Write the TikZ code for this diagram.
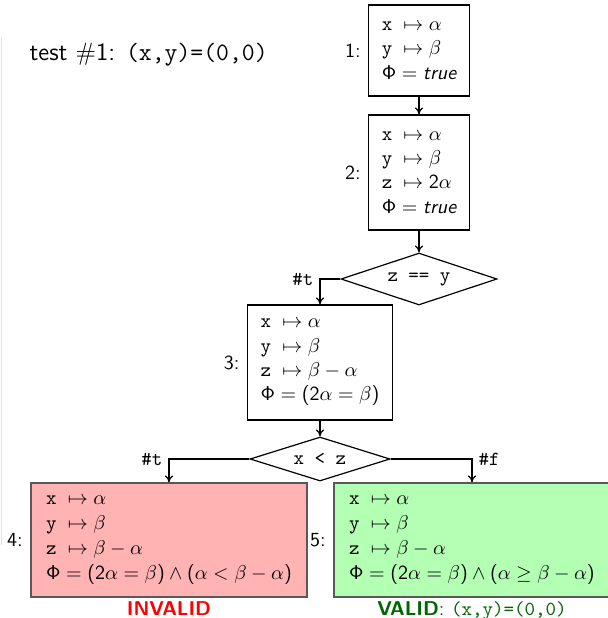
\documentclass[tikz,border=0pt]{standalone}
\usepackage{amsmath}
\usetikzlibrary{shapes.geometric,arrows.meta}
\DeclareSymbolFont{operators}{OT1}{cmss}{m}{n}
\definecolor{invred}{RGB}{255,0,0}
\definecolor{validgreen}{RGB}{0,102,0}
\definecolor{pinkfill}{RGB}{255,179,179}
\definecolor{greenfill}{RGB}{179,255,179}
\newcommand{\vx}{\texttt{x}\;}
\newcommand{\vy}{\texttt{y}\;}
\newcommand{\vz}{\texttt{z}\;}
\begin{document}
\begin{tikzpicture}[x=0.5pt,y=-0.5pt,font=\sffamily,line width=0.6pt,
  statebox/.style={draw=black,align=left,inner xsep=6.5pt,inner ysep=0pt,font=\sffamily\fontsize{10}{12.2}\selectfont},
  cond/.style={draw=black,diamond,inner sep=0pt,aspect=3,font=\ttfamily},
  steplabel/.style={anchor=east,inner sep=3.5pt},
  branch/.style={inner sep=3pt,font=\ttfamily},
  conn/.style={->,>={To[length=3.5pt,width=4pt]}}]
\clip (0,0) rectangle (608,618);
% faint page rule at left
\draw[black!12,line width=0.5pt] (1,38) -- (1,545);
% title
\node[anchor=base west,inner sep=0pt,font=\sffamily\fontsize{12.5}{15}\selectfont] (title) at (29,60)
  {test \textrm{\#}1: \texttt{(x,y)=(0,0)}};
% states
\node[statebox,minimum height=45.5pt] (b1) at (419,50.5)
  {$\vx\mapsto\alpha$\\ $\vy\mapsto\beta$\\ $\Phi=\text{\itshape true}$};
\node[statebox,minimum height=57.5pt] (b2) at (419,172.5)
  {$\vx\mapsto\alpha$\\ $\vy\mapsto\beta$\\ $\vz\mapsto 2\alpha$\\ $\Phi=\text{\itshape true}$};
\node[cond,minimum width=78pt,minimum height=26pt] (d1) at (419,279) {z == y};
\node[statebox,minimum height=57.5pt] (b3) at (320,362.5)
  {$\vx\mapsto\alpha$\\ $\vy\mapsto\beta$\\ $\vz\mapsto \beta-\alpha$\\ $\Phi=(2\alpha=\beta)$};
\node[cond,minimum width=70pt,minimum height=22pt] (d2) at (320,459) {x < z};
\node[statebox,draw=black!65,fill=pinkfill,minimum height=57pt,minimum width=138pt,
  font=\sffamily\fontsize{10}{12.5}\selectfont] (b4) at (169,540)
  {$\vx\mapsto\alpha$\\ $\vy\mapsto\beta$\\ $\vz\mapsto \beta-\alpha$\\ $\Phi=(2\alpha=\beta)\wedge(\alpha<\beta-\alpha)$};
\node[statebox,draw=black!65,fill=greenfill,minimum height=57pt,minimum width=138pt,
  font=\sffamily\fontsize{10}{12.5}\selectfont] (b5) at (472,540)
  {$\vx\mapsto\alpha$\\ $\vy\mapsto\beta$\\ $\vz\mapsto \beta-\alpha$\\ $\Phi=(2\alpha=\beta)\wedge(\alpha\geq\beta-\alpha)$};
% step labels
\node[steplabel] (l1) at (b1.west) {1:};
\node[steplabel] (l2) at (b2.west) {2:};
\node[steplabel] (l3) at (b3.west) {3:};
\node[steplabel] (l4) at (b4.west) {4:};
\node[steplabel] (l5) at (b5.west) {5:};
% verdicts
\node[anchor=north,inner sep=1.5pt,text=invred,font=\sffamily\bfseries] (inv) at (b4.south) {INVALID};
\node[anchor=north,inner sep=1.5pt,text=validgreen] (val) at (b5.south) {\textbf{VALID}: \texttt{(x,y)=(0,0)}};
% connectors
\draw[conn] (b1) -- (b2);
\draw[conn] (b2) -- (d1);
\draw[conn] (d1.west) -| (b3.north);
\node[branch,anchor=east] (t1) at (d1.west -| b3.north) {\#t};
\draw[conn] (b3) -- (d2);
\draw[conn] (d2.west) -| (b4.north);
\node[branch,anchor=east] (t2) at (d2.west -| b4.north) {\#t};
\draw[conn] (d2.east) -| (b5.north);
\node[branch,anchor=west] (f2) at (d2.east -| b5.north) {\#f};
\end{tikzpicture}
\end{document}
